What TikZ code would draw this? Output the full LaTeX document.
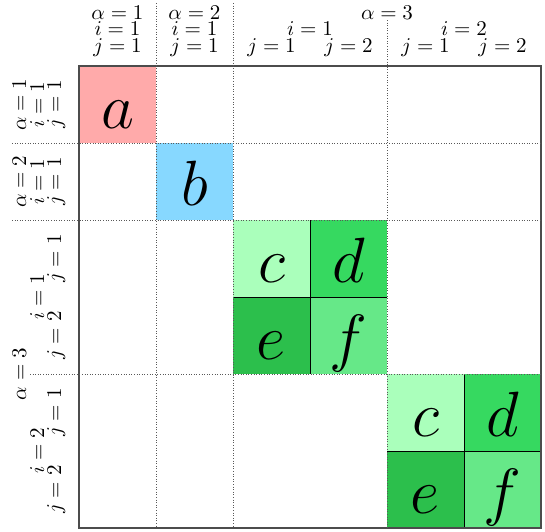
\RequirePackage{fix-cm}
\documentclass[tikz,border=0pt]{standalone}
\definecolor{cA}{RGB}{255,170,170}
\definecolor{cB}{RGB}{135,216,255}
\definecolor{cC}{RGB}{170,255,187}
\definecolor{cD}{RGB}{54,217,96}
\definecolor{cE}{RGB}{44,191,76}
\definecolor{cF}{RGB}{102,232,136}
\begin{document}
\begin{tikzpicture}[x=0.5pt,y=-0.5pt,
  cellbox/.style={minimum width=38.5pt, minimum height=38.5pt, inner sep=0pt, outer sep=0pt},
  bigletter/.style={anchor=base, inner sep=0pt, font=\fontsize{32}{36}\selectfont},
  hlab/.style={anchor=base, inner sep=0pt, font=\fontsize{10.5}{12}\selectfont},
  vlab/.style={hlab, rotate=90},
  innerline/.style={black, line width=0.5pt},
  frameline/.style={black!70, line width=0.7pt},
  dotline/.style={black!65, line width=0.4pt, dash pattern=on 0.5pt off 0.8pt}]
\useasboundingbox (0,0) rectangle (545,531);
% cells
\node[cellbox, fill=cA] (ca) at (117.5,104.5) {};
\node[cellbox, fill=cB] (cb) at (194.5,181.5) {};
\node[cellbox, fill=cC] (cc) at (271.5,258.5) {};
\node[cellbox, fill=cD] (cd) at (348.5,258.5) {};
\node[cellbox, fill=cE] (ce) at (271.5,335.5) {};
\node[cellbox, fill=cF] (cf) at (348.5,335.5) {};
\node[cellbox, fill=cC] (cc2) at (425.5,412.5) {};
\node[cellbox, fill=cD] (cd2) at (502.5,412.5) {};
\node[cellbox, fill=cE] (ce2) at (425.5,489.5) {};
\node[cellbox, fill=cF] (cf2) at (502.5,489.5) {};
% inner block lines
\draw[innerline] (cc.north east) -- (ce.south east);
\draw[innerline] (cc.south west) -- (cd.south east);
\draw[innerline] (cc2.north east) -- (ce2.south east);
\draw[innerline] (cc2.south west) -- (cd2.south east);
% letters
\node[bigletter] (la) at ([yshift=7.5pt]ca.south) {$a$};
\node[bigletter] (lb) at ([yshift=7.5pt]cb.south) {$b$};
\node[bigletter] (lc) at ([yshift=7.5pt]cc.south) {$c$};
\node[bigletter] (ld) at ([yshift=7.5pt]cd.south) {$d$};
\node[bigletter] (le) at ([yshift=7.5pt]ce.south) {$e$};
\node[bigletter] (lf) at ([yshift=7.5pt]cf.south) {$f$};
\node[bigletter] (lc2) at ([yshift=7.5pt]cc2.south) {$c$};
\node[bigletter] (ld2) at ([yshift=7.5pt]cd2.south) {$d$};
\node[bigletter] (le2) at ([yshift=7.5pt]ce2.south) {$e$};
\node[bigletter] (lf2) at ([yshift=7.5pt]cf2.south) {$f$};
% frame
\draw[frameline] (79,66) rectangle (541,528);
% dotted lines
\draw[dotline] (156,3) -- (156,528);
\draw[dotline] (233,3) -- (233,528);
\draw[dotline] (387,20) -- (387,528);
\draw[dotline] (12,143) -- (541,143);
\draw[dotline] (12,220) -- (541,220);
\draw[dotline] (30,374) -- (541,374);
% column labels
\node[hlab] (ha1) at (117.5,19.5) {$\alpha=1$};
\node[hlab] (hi1) at (117.5,35) {$i=1$};
\node[hlab] (hj1) at (117.5,52.5) {$j=1$};
\node[hlab] (ha2) at (194.5,19.5) {$\alpha=2$};
\node[hlab] (hi2) at (194.5,35) {$i=1$};
\node[hlab] (hj2) at (194.5,52.5) {$j=1$};
\node[hlab] (ha3) at (387,19.5) {$\alpha=3$};
\node[hlab] (hi31) at (310,35) {$i=1$};
\node[hlab] (hi32) at (464,35) {$i=2$};
\node[hlab] (hj311) at (271.5,52.5) {$j=1$};
\node[hlab] (hj312) at (348.5,52.5) {$j=2$};
\node[hlab] (hj321) at (425.5,52.5) {$j=1$};
\node[hlab] (hj322) at (502.5,52.5) {$j=2$};
% row labels
\node[vlab] (va1) at (26,104.5) {$\alpha=1$};
\node[vlab] (vi1) at (44,104.5) {$i=1$};
\node[vlab] (vj1) at (61,104.5) {$j=1$};
\node[vlab] (va2) at (26,181.5) {$\alpha=2$};
\node[vlab] (vi2) at (44,181.5) {$i=1$};
\node[vlab] (vj2) at (61,181.5) {$j=1$};
\node[vlab] (va3) at (26,374) {$\alpha=3$};
\node[vlab] (vi31) at (44,297) {$i=1$};
\node[vlab] (vi32) at (44,451) {$i=2$};
\node[vlab] (vj311) at (61,258.5) {$j=1$};
\node[vlab] (vj312) at (61,335.5) {$j=2$};
\node[vlab] (vj321) at (61,412.5) {$j=1$};
\node[vlab] (vj322) at (61,489.5) {$j=2$};
\end{tikzpicture}
\end{document}
